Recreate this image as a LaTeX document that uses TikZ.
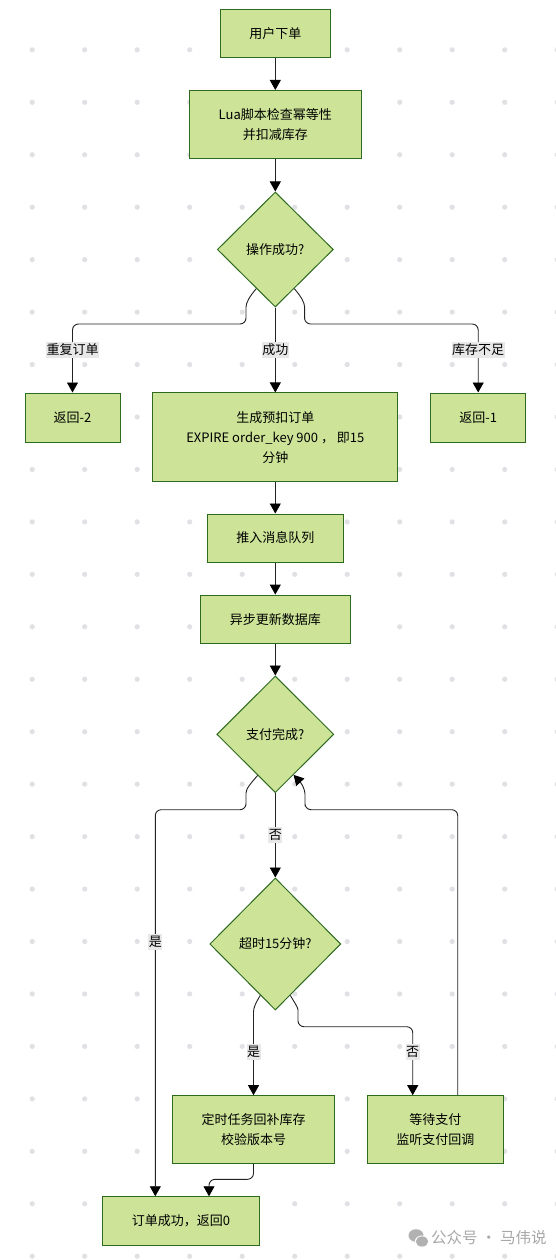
\documentclass[tikz,border=0pt]{standalone}
\usepackage{fontspec}
\setmainfont{Noto Sans CJK SC}
\usetikzlibrary{shapes.geometric,arrows.meta,calc}
\definecolor{nfill}{HTML}{CDE498}
\definecolor{ndraw}{HTML}{2E6B1E}
\definecolor{edgec}{HTML}{222222}
\definecolor{labbg}{HTML}{E8E8E8}
\definecolor{dotc}{HTML}{E1E1E5}
\definecolor{wmc}{HTML}{A8A8A8}
\newcommand\nodefont{\fontsize{13}{20}\selectfont}
\begin{document}
\begin{tikzpicture}[x=1pt,y=-1pt,
  box/.style={draw=ndraw,fill=nfill,line width=1pt,inner sep=0pt,align=center,font=\nodefont},
  dec/.style={diamond,draw=ndraw,fill=nfill,line width=1pt,inner sep=0pt,font=\nodefont},
  lab/.style={fill=labbg,inner xsep=0.5pt,inner ysep=2pt,font=\nodefont},
  edge/.style={draw=edgec,line width=0.9pt,rounded corners=6pt,-{Triangle[width=11pt,length=10pt,fill=black,color=black]}},
  ]
\useasboundingbox (0,0) rectangle (556,1260);
\fill[white] (0,0) rectangle (556,1260);
% dot grid
\foreach \i in {0,...,10}{\foreach \j in {0,...,24}{\fill[dotc] ({32.2+52.5*\i},{-2.6+52.45*\j}) circle (2.6);}}

% nodes
\node[box,minimum width=110pt,minimum height=48pt] (start) at (275.3,33.5) {用户下单};
\node[box,minimum width=171.5pt,minimum height=68pt] (lua) at (275.3,124.5) {Lua脚本检查幂等性\\并扣减库存};
\node[dec,minimum width=116pt,minimum height=115pt] (d1) at (275.3,249.5) {操作成功?};
\node[box,minimum width=95pt,minimum height=49pt] (ret2) at (72.5,417.5) {返回-2};
\node[box,minimum width=245pt,minimum height=88.5pt] (gen) at (275.3,437.2) {生成预扣订单\\EXPIRE order\_key 900 ， 即15\\分钟};
\node[box,minimum width=94.5pt,minimum height=49pt] (ret1) at (478.2,417.5) {返回-1};
\node[box,minimum width=136.4pt,minimum height=48pt] (mq) at (275.3,538) {推入消息队列};
\node[box,minimum width=149.6pt,minimum height=48.3pt] (db) at (275.3,619.2) {异步更新数据库};
\node[dec,minimum width=117pt,minimum height=116.6pt] (d2) at (275.3,734.3) {支付完成?};
\node[dec,minimum width=131pt,minimum height=132pt] (d3) at (275.3,944) {超时15分钟?};
\node[box,minimum width=162.4pt,minimum height=68pt] (task) at (253.5,1129.7) {定时任务回补库存\\校验版本号};
\node[box,minimum width=136pt,minimum height=68pt] (wait) at (435.3,1129.7) {等待支付\\监听支付回调};
\node[box,minimum width=156.6pt,minimum height=48.3pt] (ok) at (181,1220.9) {订单成功，返回0};

% helper coordinates on diamond edges
\coordinate (d1l) at ($(d1.south)!0.325!(d1.west)$);
\coordinate (d1r) at ($(d1.south)!0.325!(d1.east)$);
\coordinate (d2l) at ($(d2.south)!0.30!(d2.west)$);
\coordinate (d2r) at ($(d2.south)!0.31!(d2.east)$);
\coordinate (d3l) at ($(d3.south)!0.227!(d3.west)$);
\coordinate (d3r) at ($(d3.south)!0.227!(d3.east)$);

% edges
\draw[edge] (start.south) -- (lua.north);
\draw[edge] (lua.south) -- (d1.north);
\draw[edge] (d1l) .. controls ($(d1l)+(-7,8)$) and (246,303) .. (246,313) -- (246,324) -- (72.5,324) -- (ret2.north);
\draw[edge] (d1.south) -- (gen.north);
\draw[edge] (d1r) .. controls ($(d1r)+(7,8)$) and (304.6,303) .. (304.6,313) -- (304.6,324) -- (478.2,324) -- (ret1.north);
\draw[edge] (gen.south) -- (mq.north);
\draw[edge] (mq.south) -- (db.north);
\draw[edge] (db.south) -- (d2.north);
\draw[edge] (d2l) .. controls ($(d2l)+(-7,8)$) and (246,789) .. (246,799) -- (246,809.7) -- (155.3,809.7) -- (155.3,0 |- ok.north);
\draw[edge] (d2.south) -- (d3.north);
\draw[edge] (d3l) .. controls ($(d3l)+(-5,8)$) and (253.5,1008) .. (253.5,1018) -- (task.north);
\draw[edge] (d3r) .. controls ($(d3r)+(5,8)$) and (298,1008) .. (298,1016) -- (298,1026.7) -- (412.7,1026.7) -- (412.7,0 |- wait.north);
\draw[edge] (457.7,0 |- wait.north) -- (457.7,809.7) -- (305,809.7) -- (305,800) .. controls (305,790) and (302,784) .. (d2r);
\draw[edge] (task.south) -- (253.5,1179.3) -- (209,1179.3) -- (209,0 |- ok.north);

% edge labels
\node[lab] (l1) at (72.5,350) {重复订单};
\node[lab] (l2) at (275.3,350) {成功};
\node[lab] (l3) at (478.2,350) {库存不足};
\node[lab] (l4) at (155.3,942) {是};
\node[lab] (l5) at (275.3,835) {否};
\node[lab] (l6) at (253.5,1052) {是};
\node[lab] (l7) at (412.7,1052) {否};

% watermark
\fill[wmc!90] (416,1235.5) ellipse (7.5 and 6.3);
\fill[white] (422,1241.5) ellipse (7.2 and 6);
\fill[wmc!90] (422,1241.5) ellipse (6.2 and 5.1);
\node[font=\fontsize{15.5}{16}\selectfont,text=wmc,anchor=west,inner sep=0pt] (wm) at (431,1237.5) {公众号 · 马伟说};
\end{tikzpicture}
\end{document}
